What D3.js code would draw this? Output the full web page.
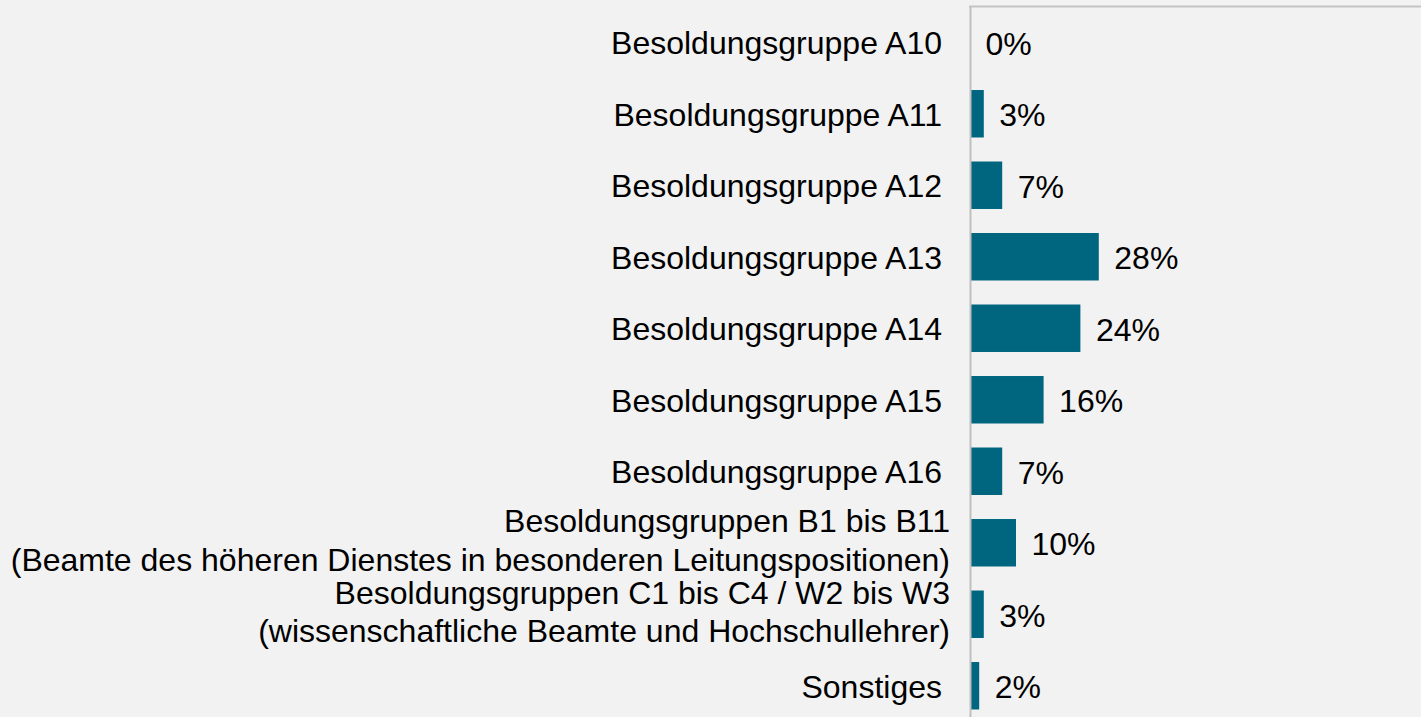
<!DOCTYPE html>
<html>
<head>
<meta charset="utf-8">
<script src="https://cdn.jsdelivr.net/npm/d3@7"></script>
<style>
  html, body { margin: 0; padding: 0; background: #f2f2f2; overflow: hidden; }
  svg { display: block; }
  text { font-family: "Liberation Sans", Arial, sans-serif; fill: #000; }
</style>
</head>
<body>
<svg id="chart" width="1421" height="717"></svg>
<script>
// Anteile der Besoldungsgruppen (in Prozent)
const categories = [
  "Besoldungsgruppe A10",
  "Besoldungsgruppe A11",
  "Besoldungsgruppe A12",
  "Besoldungsgruppe A13",
  "Besoldungsgruppe A14",
  "Besoldungsgruppe A15",
  "Besoldungsgruppe A16",
  "Besoldungsgruppen B1 bis B11\n(Beamte des höheren Dienstes in besonderen Leitungspositionen)",
  "Besoldungsgruppen C1 bis C4 / W2 bis W3\n(wissenschaftliche Beamte und Hochschullehrer)",
  "Sonstiges"
];
const shares = [0, 3, 7, 28, 24, 16, 7, 10, 3, 2];
const valueLabels = ["0%", "3%", "7%", "28%", "24%", "16%", "7%", "10%", "3%", "2%"];

const W = 1421, H = 717;
const fontSize = 32;
const plot = { left: 970, top: 6.5, bottom: 721.5 };

const svg = d3.select("#chart");

const x = d3.scaleLinear().domain([0, 30]).range([plot.left, plot.left + 138]);
const y = d3.scaleBand()
  .domain(categories)
  .range([plot.top, plot.bottom])
  .paddingInner(0.336)
  .paddingOuter(0.168);

// Rahmenlinie oben
svg.append("line")
  .attr("x1", plot.left - 1).attr("x2", W)
  .attr("y1", plot.top).attr("y2", plot.top)
  .attr("stroke", "#c4c4c4").attr("stroke-width", 2);

// Balken
svg.append("g").selectAll("rect")
  .data(categories)
  .join("rect")
  .attr("x", plot.left)
  .attr("y", d => y(d))
  .attr("width", (d, i) => x(shares[i]) - x(0))
  .attr("height", y.bandwidth())
  .attr("fill", "#00667f");

// Kategorieachse
const axis = d3.axisLeft(y).tickSize(0).tickSizeOuter(0).tickPadding(0).tickFormat("");
const gAxis = svg.append("g")
  .attr("transform", `translate(${plot.left},0)`)
  .call(axis);
gAxis.select(".domain").attr("stroke", "#bfbfbf").attr("stroke-width", 2);

gAxis.selectAll(".tick").each(function (d) {
  const lines = d.split("\n");
  const g = d3.select(this);
  g.select("text").remove();
  const multi = lines.length > 1;
  const xOff = multi ? -20 : -28;
  const t = g.append("text")
    .attr("text-anchor", "end")
    .style("font-size", fontSize + "px")
    .attr("x", xOff);
  const lineH = 38.5;
  const first = multi ? -10.5 : 11.8;
  lines.forEach((l, i) => {
    t.append("tspan")
      .attr("x", xOff)
      .attr("y", first + i * lineH)
      .text(l);
  });
});

// Wertebeschriftungen
svg.append("g").selectAll("text")
  .data(categories)
  .join("text")
  .attr("x", (d, i) => x(shares[i]) + 15.5)
  .attr("y", d => y(d) + y.bandwidth() / 2 + 12.3)
  .style("font-size", fontSize + "px")
  .text((d, i) => valueLabels[i]);
</script>
</body>
</html>
